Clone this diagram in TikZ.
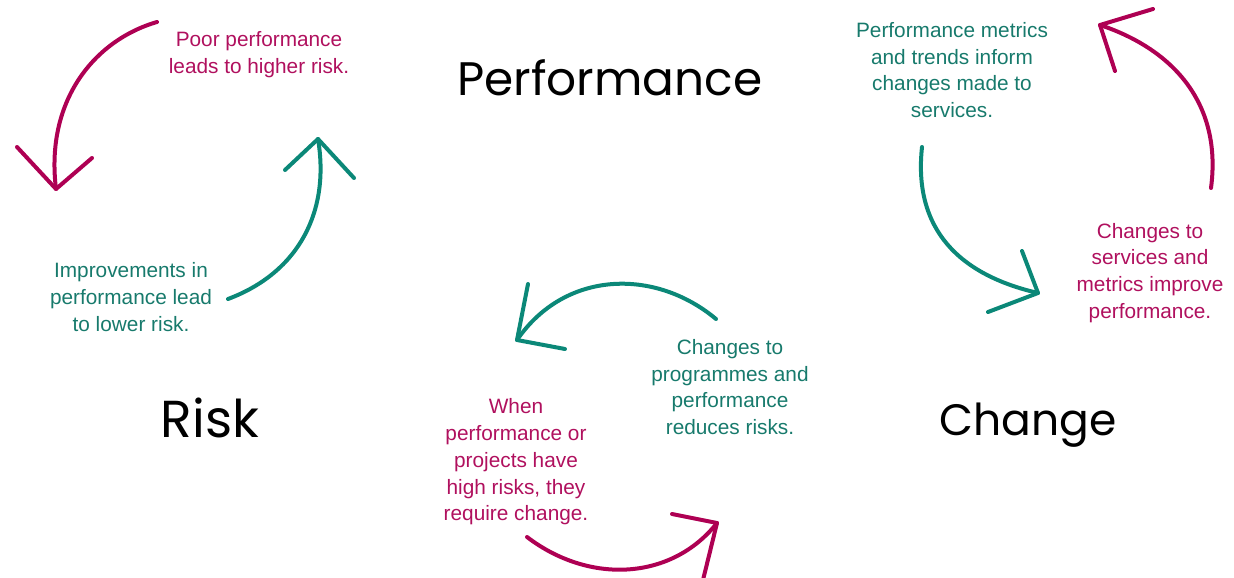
\documentclass[tikz,border=0pt]{standalone}
\usepackage{fontspec}
\setmainfont{Liberation Sans}
\newfontfamily\headfont{Poppins}
\definecolor{mag}{HTML}{AE0053}
\definecolor{tel}{HTML}{0B8878}
\definecolor{magtxt}{HTML}{B0105E}
\definecolor{teltxt}{HTML}{177A6C}
\begin{document}
\begin{tikzpicture}[x=1pt,y=-1pt,
  lab/.style={align=center,inner sep=0pt,font=\fontsize{20.8}{26.8}\selectfont},
  head/.style={inner sep=0pt,text=black},
  curvemag/.style={draw=mag,line width=4pt,line cap=round,line join=round},
  curvetel/.style={draw=tel,line width=4pt,line cap=round,line join=round}]
\useasboundingbox (0,0) rectangle (1234,578);
% headings
\node[head,font=\headfont\fontsize{47}{52}\selectfont] (hperf) at (610,78) {Performance};
\node[head,font=\headfont\fontsize{52}{58}\selectfont] (hrisk) at (210,418) {Risk};
\node[head,font=\headfont\fontsize{44}{50}\selectfont] (hchange) at (1028,425) {Change};
% labels
\node[lab,text=magtxt] (l1) at (259,55) {Poor performance\\leads to higher risk.};
\node[lab,text=teltxt] (l2) at (131,297) {Improvements in\\performance lead\\to lower risk.};
\node[lab,text=teltxt] (l3) at (952,70) {Performance metrics\\and trends inform\\changes made to\\services.};
\node[lab,text=magtxt] (l4) at (1150,273) {Changes to\\services and\\metrics improve\\performance.};
\node[lab,text=teltxt] (l5) at (730,387) {Changes to\\programmes and\\performance\\reduces risks.};
\node[lab,text=magtxt] (l6) at (516,462) {When\\performance or\\projects have\\high risks, they\\require change.};
% arrow 1 (magenta, top-left)
\coordinate (a1s) at (157,22);
\coordinate (a1t) at (56,189);
\coordinate (a1l) at (17,147);
\coordinate (a1r) at (92,158);
\draw[curvemag] (a1s) .. controls (95,40) and (45,100) .. (a1t);
\draw[curvemag] (a1l) -- (a1t) -- (a1r);
% arrow 2 (teal, left)
\coordinate (a2s) at (228,299);
\coordinate (a2t) at (318,139);
\coordinate (a2l) at (285,170);
\coordinate (a2r) at (354,178);
\draw[curvetel] (a2s) .. controls (300,272) and (330,210) .. (a2t);
\draw[curvetel] (a2l) -- (a2t) -- (a2r);
% arrow 3 (teal, top-right)
\coordinate (a3s) at (922,147);
\coordinate (a3t) at (1038,293);
\coordinate (a3u) at (1022,251);
\coordinate (a3d) at (988,312);
\draw[curvetel] (a3s) .. controls (913,230) and (960,275) .. (a3t);
\draw[curvetel] (a3u) -- (a3t) -- (a3d);
% arrow 4 (magenta, right)
\coordinate (a4s) at (1211,188);
\coordinate (a4t) at (1100,25);
\coordinate (a4u) at (1153,9);
\coordinate (a4d) at (1115,71);
\draw[curvemag] (a4s) .. controls (1222,105) and (1175,50) .. (a4t);
\draw[curvemag] (a4u) -- (a4t) -- (a4d);
% arrow 5 (teal, middle)
\coordinate (a5s) at (716,319);
\coordinate (a5t) at (517,340);
\coordinate (a5u) at (528,284);
\coordinate (a5d) at (565,349);
\draw[curvetel] (a5s) .. controls (655,268) and (565,270) .. (a5t);
\draw[curvetel] (a5u) -- (a5t) -- (a5d);
% arrow 6 (magenta, bottom)
\coordinate (a6s) at (527,537);
\coordinate (a6t) at (717,523);
\coordinate (a6u) at (672,514);
\coordinate (a6d) at (703,580);
\draw[curvemag] (a6s) .. controls (590,585) and (672,580) .. (a6t);
\draw[curvemag] (a6u) -- (a6t) -- (a6d);
\end{tikzpicture}
\end{document}
